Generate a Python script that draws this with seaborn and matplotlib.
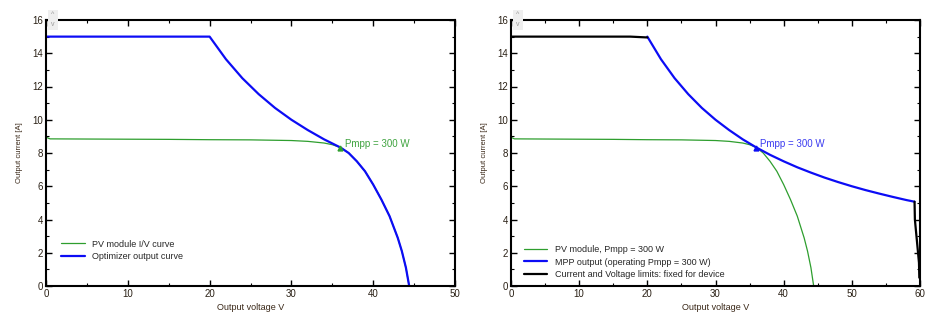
import matplotlib
matplotlib.use("Agg")
import matplotlib.pyplot as plt
import seaborn as sns
from matplotlib.ticker import MultipleLocator

sns.set_theme(style="white")
plt.rcParams['font.family'] = ['Liberation Sans', 'DejaVu Sans']

# PV module I/V curve (shared)
pv_v = [0, 0.5, 5, 10, 15, 20, 25, 30, 32, 34, 35, 36, 37, 38, 39, 40, 41, 42, 43, 43.5, 44, 44.4]
pv_i = [8.95, 8.85, 8.84, 8.83, 8.82, 8.8, 8.79, 8.75, 8.7, 8.6, 8.5, 8.33, 8.0, 7.5, 6.9, 6.1, 5.2, 4.2, 2.9, 2.1, 1.1, 0.0]

# Left: optimizer output curve
opt_v = [0, 20, 22, 24, 26, 28, 30, 32, 34, 36, 37, 38, 39, 40, 41, 42, 43, 43.5, 44, 44.4]
opt_i = [15, 15, 13.64, 12.5, 11.54, 10.71, 10.0, 9.38, 8.82, 8.33, 8.0, 7.5, 6.9, 6.1, 5.2, 4.2, 2.9, 2.1, 1.1, 0.0]

# Right: MPP output
mpp_v = [20, 22, 24, 26, 28, 30, 32, 34, 36, 38, 40, 42, 44, 46, 48, 50, 52, 54, 56, 58, 59.2]
mpp_i = [15, 13.64, 12.5, 11.54, 10.71, 10.0, 9.38, 8.82, 8.33, 7.89, 7.5, 7.14, 6.82, 6.52, 6.25, 6.0, 5.77, 5.56, 5.36, 5.17, 5.07]

# Right: device limits (two segments)
lim1_v = [0, 17.5, 20]
lim1_i = [15, 15, 14.95]
lim2_v = [59.2, 59.25, 59.85, 59.9]
lim2_i = [5.07, 4.0, 1.4, 0.5]

mpp_point = (36.0, 8.33)
mpp_label = "Pmpp = 300 W"

left_labels = ["PV module I/V curve", "Optimizer output curve"]
right_labels = ["PV module, Pmpp = 300 W", "MPP output (operating Pmpp = 300 W)",
                "Current and Voltage limits: fixed for device"]

GREEN = "#2e9e2e"
BLUE = "#0c0cf5"
BLACK = "#000000"
TICKC = "#2a2015"
LABC = "#3a2818"

fig = plt.figure(figsize=(9.44, 3.25), dpi=100)
axL = fig.add_axes([46/944, 1-286/325, 409/944, 266/325])
axR = fig.add_axes([511/944, 1-286/325, 409/944, 266/325])


def style(ax, xmax):
    ax.set_xlim(0, xmax)
    ax.set_ylim(0, 16)
    ax.xaxis.set_major_locator(MultipleLocator(10))
    ax.xaxis.set_minor_locator(MultipleLocator(5))
    ax.yaxis.set_major_locator(MultipleLocator(2))
    ax.yaxis.set_minor_locator(MultipleLocator(1))
    ax.tick_params(which='both', direction='in', top=True, right=True, bottom=True, left=True,
                   colors='black', labelcolor=TICKC, labelsize=7, pad=2)
    ax.tick_params(which='major', length=4, width=1)
    ax.tick_params(which='minor', length=2, width=0.8)
    for s in ax.spines.values():
        s.set_color('black')
        s.set_linewidth(1.5)
    ax.set_xlabel("Output voltage V", fontsize=6.5, color=LABC, labelpad=3)
    ax.set_ylabel("Output current [A]", fontsize=5.5, color=LABC, labelpad=7)
    ax.grid(False)


leg_kw = dict(frameon=False, fontsize=6.5, handlelength=2.6, handletextpad=0.8,
              labelspacing=0.35, borderaxespad=0)

# Left chart
sns.lineplot(x=pv_v, y=pv_i, ax=axL, color=GREEN, linewidth=0.9, label=left_labels[0], sort=False)
sns.lineplot(x=opt_v, y=opt_i, ax=axL, color=BLUE, linewidth=1.6, label=left_labels[1], sort=False)
axL.plot([mpp_point[0]], [mpp_point[1]], marker='^', color=GREEN, markersize=3.5, linestyle='none')
axL.text(mpp_point[0] + 0.6, 8.55, mpp_label, color="#3fa33f", fontsize=7, va='center', ha='left')
style(axL, 50)
axL.legend(loc='center left', bbox_to_anchor=(0.028, 0.135), **leg_kw)

# Right chart
sns.lineplot(x=pv_v, y=pv_i, ax=axR, color=GREEN, linewidth=0.9, label=right_labels[0], sort=False)
sns.lineplot(x=mpp_v, y=mpp_i, ax=axR, color=BLUE, linewidth=1.6, label=right_labels[1], sort=False)
sns.lineplot(x=lim1_v, y=lim1_i, ax=axR, color=BLACK, linewidth=1.6, label=right_labels[2], sort=False)
sns.lineplot(x=lim2_v, y=lim2_i, ax=axR, color=BLACK, linewidth=1.6, sort=False)
axR.plot([mpp_point[0]], [mpp_point[1]], marker='^', color=BLUE, markersize=3.5, linestyle='none')
axR.text(mpp_point[0] + 0.6, 8.55, mpp_label, color="#3a3af0", fontsize=7, va='center', ha='left')
style(axR, 60)
axR.legend(loc='center left', bbox_to_anchor=(0.023, 0.09), **leg_kw)

# small scroll buttons (UI artifacts)
for x0 in (48, 513):
    fig.patches.append(plt.Rectangle((x0/944, 1-30/325), 10/944, 20/325, transform=fig.transFigure,
                                     facecolor='#eeeeee', edgecolor='none', zorder=5))
    fig.text((x0+5)/944, 1-15/325, "^", fontsize=5, color='#999999', ha='center', va='center', zorder=6)
    fig.text((x0+5)/944, 1-25/325, "v", fontsize=5, color='#999999', ha='center', va='center', zorder=6)

fig.savefig("out.png", dpi=100)
